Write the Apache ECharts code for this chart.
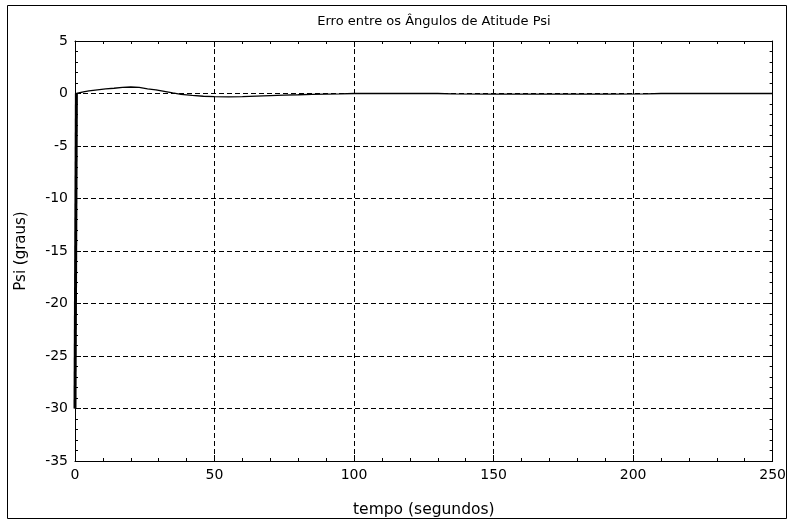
<!DOCTYPE html>
<html>
<head>
<meta charset="utf-8">
<script src="https://cdn.jsdelivr.net/npm/echarts@6/dist/echarts.min.js"></script>
<style>
html,body{margin:0;padding:0;background:#fff;}
#c{width:789px;height:523px;}
</style>
</head>
<body>
<div id="c"></div>
<script>
const chartTitle = "Erro entre os Ângulos de Atitude Psi";
const xName = "tempo (segundos)";
const yName = "Psi (graus)";
const timeSec = [0, 0.5, 1, 3, 5, 8, 11, 14, 17, 20, 23, 26, 29, 32, 35, 38, 42, 46, 50, 55, 60, 65, 70, 75, 80, 85, 90, 95, 100, 110, 120, 130, 135, 150, 170, 190, 205, 210, 230, 250];
const psiErr = [-30, 0, 0.05, 0.15, 0.25, 0.35, 0.45, 0.5, 0.58, 0.62, 0.58, 0.45, 0.35, 0.2, 0.05, -0.08, -0.18, -0.26, -0.3, -0.32, -0.3, -0.25, -0.2, -0.15, -0.12, -0.08, -0.05, -0.03, 0, 0, 0, 0, -0.04, -0.05, -0.05, -0.05, -0.04, 0, 0, 0];
const xMin = 0, xMax = 250, xStep = 50;
const yMin = -35, yMax = 5, yStep = 5;

const font = "DejaVu Sans, Arial, sans-serif";
const chart = echarts.init(document.getElementById('c'));
const points = timeSec.map((t, i) => [t, psiErr[i]]);
const gridDash = {color: '#000', type: [5, 3], width: 1};
function xAxisCfg(pos, show) {
  return {
    type: 'value', position: pos, min: xMin, max: xMax, interval: xStep,
    axisLine: {show: true, onZero: false, lineStyle: {color: '#000', width: 1}},
    axisTick: {show: true, inside: true, length: 6, lineStyle: {color: '#000'}},
    minorTick: {show: true, splitNumber: 5, length: 3, lineStyle: {color: '#000'}},
    axisLabel: {show: show, color: '#000', fontFamily: font, fontSize: 14, margin: 7},
    splitLine: {show: show, lineStyle: gridDash},
    name: show ? xName : '', nameLocation: 'middle', nameGap: 41,
    nameTextStyle: {color: '#000', fontFamily: font, fontSize: 15.5}
  };
}
function yAxisCfg(pos, show) {
  return {
    type: 'value', position: pos, min: yMin, max: yMax, interval: yStep,
    axisLine: {show: true, onZero: false, lineStyle: {color: '#000', width: 1}},
    axisTick: {show: true, inside: true, length: 6, lineStyle: {color: '#000'}},
    minorTick: {show: true, splitNumber: 5, length: 3, lineStyle: {color: '#000'}},
    axisLabel: {show: show, color: '#000', fontFamily: font, fontSize: 14, margin: 7},
    splitLine: {show: show, lineStyle: gridDash},
    name: show ? yName : '', nameLocation: 'middle', nameGap: 46,
    nameTextStyle: {color: '#000', fontFamily: font, fontSize: 15}
  };
}
chart.setOption({
  backgroundColor: '#fff',
  animation: false,
  title: {
    text: chartTitle, left: 429, top: 10, textAlign: 'center',
    textStyle: {color: '#000', fontFamily: font, fontSize: 13, fontWeight: 'normal'}
  },
  grid: {left: 75, right: 11, top: 41, bottom: 60},
  xAxis: [xAxisCfg('bottom', true), xAxisCfg('top', false)],
  yAxis: [yAxisCfg('left', true), yAxisCfg('right', false)],
  graphic: [{
    type: 'rect', shape: {x: 7.5, y: 5.5, width: 779, height: 513},
    style: {fill: 'none', stroke: '#000', lineWidth: 1}, silent: true, z: -1
  }],
  series: [{
    type: 'line', data: points, xAxisIndex: 0, yAxisIndex: 0, clip: false,
    showSymbol: false, z: 10, lineStyle: {color: '#000', width: 1.3}
  }, {
    type: 'line', data: points.slice(0, 2), xAxisIndex: 0, yAxisIndex: 0, clip: false,
    showSymbol: false, z: 11, lineStyle: {color: '#000', width: 3}
  }]
});
</script>
</body>
</html>
